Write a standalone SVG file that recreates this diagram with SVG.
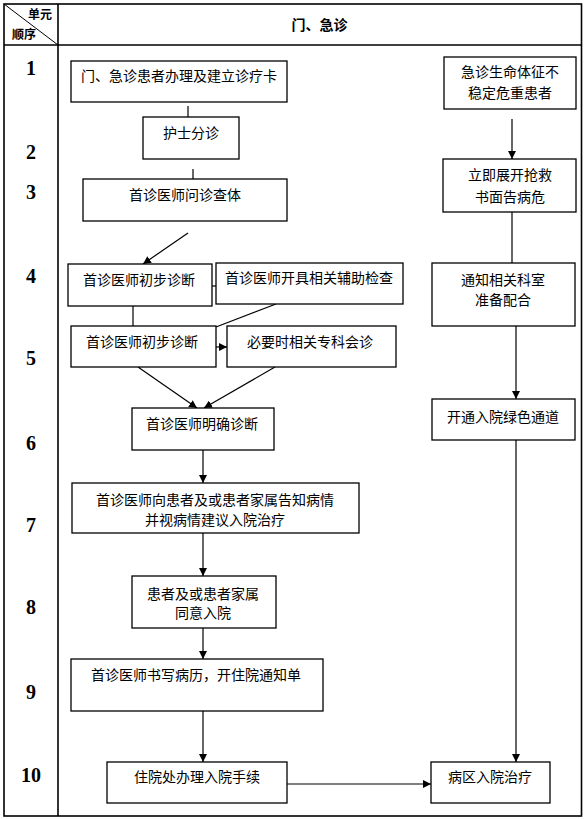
<svg xmlns="http://www.w3.org/2000/svg" width="586" height="819" viewBox="0 0 586 819">
<defs>
<style>
.tbl{fill:none;stroke:#000;stroke-width:1.6}
.box{fill:#fff;stroke:#000;stroke-width:1.3}
.t{font-family:"Noto Sans CJK SC","Liberation Sans",sans-serif;font-size:14px;fill:#000;text-anchor:middle}
.h{font-family:"Noto Sans CJK SC","Liberation Sans",sans-serif;font-weight:bold;fill:#000;text-anchor:middle}
.n{font-family:"Liberation Serif",serif;font-weight:bold;font-size:20px;fill:#000;text-anchor:middle}
.c{fill:none;stroke:#000;stroke-width:1.2}
</style>
<marker id="ah" markerUnits="userSpaceOnUse" markerWidth="8" markerHeight="8" refX="8" refY="4" orient="auto">
<path d="M0,0 L8,4 L0,8 z" fill="#000"/>
</marker>
</defs>
<rect width="586" height="819" fill="#fff"/>
<g id="table">
<rect class="tbl" x="4" y="4" width="577.5" height="812"/>
<line class="tbl" x1="4" y1="45" x2="581.5" y2="45"/>
<line class="tbl" x1="58" y1="4" x2="58" y2="816"/>
<line x1="4" y1="4" x2="58" y2="45" stroke="#000" stroke-width="1"/>
<text class="h" x="40" y="19" font-size="12">单元</text>
<text class="h" x="24" y="39" font-size="12">顺序</text>
<text class="h" x="319.5" y="30" font-size="14">门、急诊</text>
<text class="n" x="31" y="75">1</text>
<text class="n" x="31" y="159">2</text>
<text class="n" x="31" y="199">3</text>
<text class="n" x="31" y="283">4</text>
<text class="n" x="31" y="365">5</text>
<text class="n" x="31" y="450">6</text>
<text class="n" x="31" y="532">7</text>
<text class="n" x="31" y="614">8</text>
<text class="n" x="31" y="699">9</text>
<text class="n" x="31" y="782">10</text>
</g>
<g id="connectors">
<line class="c" x1="188" y1="106" x2="188" y2="117"/>
<line class="c" x1="193" y1="169" x2="193" y2="179"/>
<line class="c" x1="188" y1="233" x2="143" y2="264" marker-end="url(#ah)"/>
<line class="c" x1="212" y1="286" x2="216" y2="286"/>
<line class="c" x1="133" y1="306" x2="133" y2="326"/>
<line class="c" x1="276" y1="304" x2="216" y2="327"/>
<line class="c" x1="216" y1="347" x2="227" y2="347" marker-end="url(#ah)"/>
<line class="c" x1="138" y1="367" x2="197" y2="408" marker-end="url(#ah)"/>
<line class="c" x1="275" y1="367" x2="204" y2="408" marker-end="url(#ah)"/>
<line class="c" x1="203" y1="450" x2="203" y2="483" marker-end="url(#ah)"/>
<line class="c" x1="203" y1="533" x2="203" y2="576" marker-end="url(#ah)"/>
<line class="c" x1="203" y1="628" x2="203" y2="659" marker-end="url(#ah)"/>
<line class="c" x1="203" y1="711" x2="203" y2="762" marker-end="url(#ah)"/>
<line class="c" x1="287" y1="784" x2="431" y2="784" marker-end="url(#ah)"/>
<line class="c" x1="512" y1="119" x2="512" y2="159" marker-end="url(#ah)"/>
<line class="c" x1="512" y1="212" x2="512" y2="263"/>
<line class="c" x1="516" y1="326" x2="516" y2="399" marker-end="url(#ah)"/>
<line class="c" x1="516" y1="440" x2="516" y2="762" marker-end="url(#ah)"/>
</g>
<g id="n_a"><rect class="box" x="71" y="61" width="216" height="41"/><text class="t" x="179" y="81">门、急诊患者办理及建立诊疗卡</text></g>
<g id="n_b"><rect class="box" x="143" y="117" width="96" height="42"/><text class="t" x="191" y="138">护士分诊</text></g>
<g id="n_c"><rect class="box" x="83" y="179" width="204" height="42"/><text class="t" x="185" y="200">首诊医师问诊查体</text></g>
<g id="n_d"><rect class="box" x="68" y="264" width="144" height="42"/><text class="t" x="139" y="285">首诊医师初步诊断</text></g>
<g id="n_e"><rect class="box" x="216" y="263" width="187" height="41"/><text class="t" x="309" y="283">首诊医师开具相关辅助检查</text></g>
<g id="n_f"><rect class="box" x="71" y="326" width="145" height="41"/><text class="t" x="142" y="347">首诊医师初步诊断</text></g>
<g id="n_g"><rect class="box" x="227" y="326" width="169" height="41"/><text class="t" x="310" y="347">必要时相关专科会诊</text></g>
<g id="n_h"><rect class="box" x="132" y="408" width="142" height="42"/><text class="t" x="202" y="429">首诊医师明确诊断</text></g>
<g id="n_i"><rect class="box" x="72" y="483" width="287" height="50"/><text class="t" x="215" y="505">首诊医师向患者及或患者家属告知病情</text><text class="t" x="215" y="525">并视病情建议入院治疗</text></g>
<g id="n_j"><rect class="box" x="132" y="576" width="144" height="52"/><text class="t" x="203" y="599">患者及或患者家属</text><text class="t" x="203" y="618">同意入院</text></g>
<g id="n_k"><rect class="box" x="71" y="659" width="252" height="52"/><text class="t" x="196" y="680">首诊医师书写病历，开住院通知单</text></g>
<g id="n_l"><rect class="box" x="107" y="762" width="180" height="41"/><text class="t" x="197" y="782">住院处办理入院手续</text></g>
<g id="n_m"><rect class="box" x="431" y="762" width="119" height="41"/><text class="t" x="490" y="782">病区入院治疗</text></g>
<g id="n_n"><rect class="box" x="444" y="57" width="132" height="52"/><text class="t" x="510" y="77">急诊生命体征不</text><text class="t" x="510" y="98">稳定危重患者</text></g>
<g id="n_o"><rect class="box" x="443" y="159" width="133" height="53"/><text class="t" x="510" y="180">立即展开抢救</text><text class="t" x="510" y="202">书面告病危</text></g>
<g id="n_p"><rect class="box" x="432" y="263" width="143" height="63"/><text class="t" x="503" y="285">通知相关科室</text><text class="t" x="503" y="305">准备配合</text></g>
<g id="n_q"><rect class="box" x="432" y="399" width="143" height="41"/><text class="t" x="503" y="422">开通入院绿色通道</text></g>
</svg>
